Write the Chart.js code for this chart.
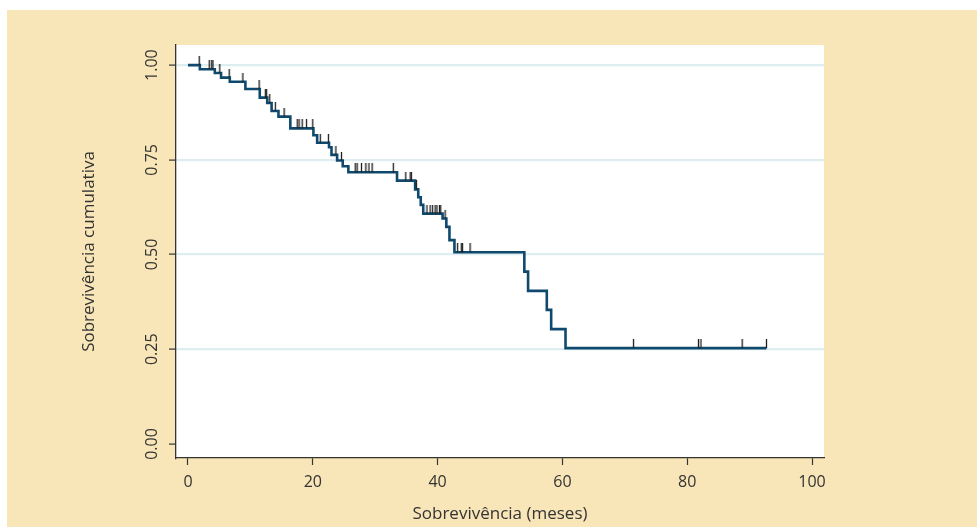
<!DOCTYPE html>
<html>
<head>
<meta charset="utf-8">
<script src="https://cdn.jsdelivr.net/npm/chart.js@4"></script>
<style>
  html, body { margin: 0; padding: 0; background: #ffffff; }
  #box { position: absolute; left: 7px; top: 10px; width: 970px; height: 517px; background: #f8e6b8; }
</style>
</head>
<body>
<div id="box"><canvas id="kmChart"></canvas></div>
<script>
// tempos dos eventos (meses) e sobrevivência após cada evento
const eventTimes = [0, 1.9, 4.3, 5.3, 6.7, 9.2, 11.5, 12.7, 13.4, 14.5, 16.4, 20.1, 20.7, 22.6, 23.0, 23.9, 24.8, 25.7,
  33.5, 36.4, 36.9, 37.3, 37.7, 40.8, 41.4, 41.9, 42.7, 53.9, 54.5, 57.5, 58.2, 60.5, 92.7];
const survival = [1.0, 0.989, 0.979, 0.967, 0.956, 0.937, 0.914, 0.900, 0.879, 0.864, 0.833, 0.815, 0.795, 0.783, 0.763, 0.748, 0.733, 0.717,
  0.695, 0.672, 0.651, 0.631, 0.608, 0.595, 0.573, 0.538, 0.506, 0.455, 0.404, 0.354, 0.303, 0.253, 0.253];
// observações censuradas (meses)
const censorTimes = [1.8, 3.4, 3.8, 4.0, 5.1, 6.6, 8.8, 11.4, 12.4, 12.6, 13.1, 14.0, 15.4, 17.5, 17.8, 18.3, 19.0, 20.0,
  21.2, 22.5, 23.7, 24.6, 26.8, 27.1, 27.8, 28.5, 29.0, 29.5, 32.9, 34.9, 35.6, 35.8, 36.6, 38.3, 38.8, 39.2, 39.6,
  39.9, 40.3, 40.5, 41.2, 43.2, 43.8, 44.0, 45.2, 71.4, 81.8, 82.2, 88.8, 92.7];

const xTicks = [0, 20, 40, 60, 80, 100];
const yTicks = [0, 0.25, 0.5, 0.75, 1];
const yTickLabels = ["0.00", "0.25", "0.50", "0.75", "1.00"];

// sobrevivência no tempo t (curva em degraus)
function survivalAt(t) {
  let s = survival[0];
  for (let i = 0; i < eventTimes.length; i++) {
    if (eventTimes[i] <= t) s = survival[i];
  }
  return s;
}

const curve = eventTimes.map((t, i) => ({ x: t, y: survival[i] }));
const censored = censorTimes.map(t => ({ x: t, y: survivalAt(t) }));

// marca de censura: traço vertical acima da curva
const tick = document.createElement("canvas");
tick.width = 3; tick.height = 18;
const tctx = tick.getContext("2d");
tctx.strokeStyle = "#1e1e1e";
tctx.lineWidth = 1.3;
tctx.beginPath(); tctx.moveTo(1.5, 0); tctx.lineTo(1.5, 9); tctx.stroke();

const plotBg = {
  id: "plotBg",
  beforeDraw(chart) {
    const a = chart.chartArea, c = chart.ctx;
    c.save(); c.fillStyle = "#ffffff";
    c.fillRect(a.left, a.top, a.right - a.left, a.bottom - a.top);
    c.restore();
  }
};

const font = "'Open Sans', 'DejaVu Sans', sans-serif";

const ctx = document.getElementById("kmChart").getContext("2d");
new Chart(ctx, {
  type: "scatter",
  data: {
    datasets: [
      {
        label: "Censura",
        data: censored,
        pointStyle: tick,
        pointRadius: 5,
        showLine: false
      },
      {
        label: "Sobrevivência",
        data: curve,
        showLine: true,
        stepped: "before",
        borderColor: "#0f4a6e",
        borderWidth: 2.6,
        pointRadius: 0,
        fill: false
      }
    ]
  },
  options: {
    responsive: true,
    maintainAspectRatio: false,
    animation: false,
    layout: { padding: { top: 35, right: 153, bottom: 0, left: 0 } },
    plugins: { legend: { display: false }, tooltip: { enabled: false } },
    scales: {
      x: {
        type: "linear",
        min: -1.92,
        max: 101.92,
        afterBuildTicks: s => { s.ticks = xTicks.map(v => ({ value: v })); },
        afterFit: s => { s.height = 69; },
        grid: { drawOnChartArea: false, drawTicks: true, tickLength: 7, tickColor: "#333333", tickWidth: 1.2 },
        border: { display: true, color: "#333333", width: 1.3 },
        ticks: { color: "#333333", font: { family: font, size: 16 }, padding: 8, maxRotation: 0 },
        title: { display: true, text: "Sobrevivência (meses)", color: "#333333", font: { family: font, size: 17 }, padding: { top: 4, bottom: 3 } }
      },
      y: {
        type: "linear",
        min: -0.037,
        max: 1.053,
        afterBuildTicks: s => { s.ticks = yTicks.map(v => ({ value: v })); },
        afterFit: s => { s.width = 169; },
        grid: {
          color: c => (c.tick && c.tick.value > 0 ? "#ddedf0" : "rgba(0,0,0,0)"),
          lineWidth: 2.2,
          drawTicks: true, tickLength: 7, tickColor: "#333333", tickWidth: 1.2
        },
        border: { display: true, color: "#333333", width: 1.3 },
        ticks: {
          color: "#333333", font: { family: font, size: 16 },
          minRotation: 90, maxRotation: 90, crossAlign: "center", padding: 1,
          callback: (v) => { const i = yTicks.indexOf(v); return i >= 0 ? yTickLabels[i] : ""; }
        },
        title: { display: true, text: "Sobrevivência cumulativa", color: "#333333", font: { family: font, size: 17 }, padding: { top: 72, bottom: 0 } }
      }
    }
  },
  plugins: [plotBg]
});
</script>
</body>
</html>
